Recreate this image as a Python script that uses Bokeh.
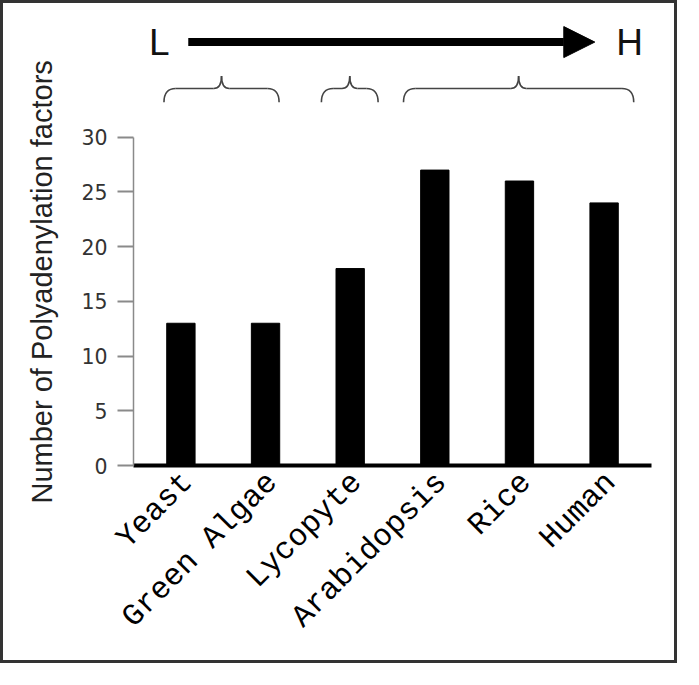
import math
from bokeh.plotting import figure
from bokeh.models import (Range1d, FixedTicker, Label, Arrow, NormalHead,
                          ColumnDataSource, Title)
from bokeh.embed import file_html
from bokeh.resources import INLINE

# ---- data ----
categories = ["Yeast", "Green Algae", "Lycopyte", "Arabidopsis", "Rice", "Human"]
factor_counts = [13, 13, 18, 27, 26, 24]
y_ticks = [0, 5, 10, 15, 20, 25, 30]
y_label = "Number of Polyadenylation factors"
low_label = "L"
high_label = "H"
# brace groups (start, end) in category-index units
brace_groups = [(-0.20, 1.16), (1.66, 2.33), (2.63, 5.35)]

xs = list(range(len(categories)))
label_shift = 0.08  # rotated labels sit slightly right of bar centres
label_ticks = [x + label_shift for x in xs]

p = figure(width=677, height=663, output_backend="svg", toolbar_location=None,
           x_range=Range1d(-0.56, len(categories) - 0.44),
           y_range=Range1d(0, 41.86),
           min_border_left=130, min_border_right=29,
           min_border_top=4, min_border_bottom=201)
p.styles = {"border": "3px solid #333333"}
p.outline_line_color = None
p.xgrid.visible = False
p.ygrid.visible = False
p.background_fill_color = "white"
p.border_fill_color = "white"

src = ColumnDataSource(dict(x=xs, top=factor_counts))
p.vbar(x="x", top="top", width=0.335, bottom=0, source=src,
       fill_color="black", line_color="black")

# y axis
ya = p.yaxis[0]
ya.ticker = FixedTicker(ticks=y_ticks)
ya.bounds = (y_ticks[0], y_ticks[-1])
ya.axis_line_color = "#8a8a8a"
ya.axis_line_width = 1.5
ya.major_tick_line_color = "#8a8a8a"
ya.major_tick_line_width = 2
ya.major_tick_out = 16
ya.major_tick_in = 0
ya.minor_tick_line_color = None
ya.major_label_text_font = "DejaVu Sans"
ya.major_label_text_font_size = "20.5px"
ya.major_label_text_color = "#333333"
ya.major_label_standoff = 10

# x axis
xa = p.xaxis[0]
xa.ticker = FixedTicker(ticks=label_ticks)
xa.major_label_overrides = {t: c for t, c in zip(label_ticks, categories)}
xa.axis_line_color = "black"
xa.axis_line_width = 4
xa.major_tick_line_color = None
xa.major_tick_out = 0
xa.major_tick_in = 0
xa.minor_tick_line_color = None
xa.major_label_orientation = math.pi / 4
xa.major_label_text_font = "Liberation Mono"
xa.major_label_text_font_size = "31px"
xa.major_label_text_color = "#000000"
xa.major_label_standoff = 12

# y axis label (as a left-side title so it can be shifted along the axis)
p.add_layout(Title(text=y_label, align="left", offset=-38, standoff=41,
                   text_font="Liberation Sans", text_font_size="29px",
                   text_font_style="normal", text_color="#222222"), "left")

# L -> H arrow
arrow_y = 38.7
p.add_layout(Arrow(end=NormalHead(size=31, fill_color="black", line_color="black"),
                   x_start=xs[0] + 0.087, y_start=arrow_y,
                   x_end=xs[-1] - 0.11, y_end=arrow_y,
                   line_width=8, line_color="black"))
p.add_layout(Label(x=xs[0] - 0.254, y=arrow_y, text=low_label,
                   text_align="center", text_baseline="middle",
                   text_font="Liberation Sans", text_font_size="37px",
                   text_color="#111111"))
p.add_layout(Label(x=xs[-1] + 0.30, y=arrow_y, text=high_label,
                   text_align="center", text_baseline="middle",
                   text_font="Liberation Sans", text_font_size="37px",
                   text_color="#111111"))

# braces
yb, ym, yt = 33.2, 34.46, 35.6
r1, r2 = 0.139, 0.092
qx0, qy0, qx1, qy1, qcx, qcy = [], [], [], [], [], []
sx0, sy0, sx1, sy1 = [], [], [], []
for a, b in brace_groups:
    m = (a + b) / 2
    qx0.append(a); qy0.append(yb); qx1.append(a + r1); qy1.append(ym); qcx.append(a); qcy.append(ym)
    qx0.append(b); qy0.append(yb); qx1.append(b - r1); qy1.append(ym); qcx.append(b); qcy.append(ym)
    qx0.append(m - r2); qy0.append(ym); qx1.append(m); qy1.append(yt); qcx.append(m); qcy.append(ym)
    qx0.append(m + r2); qy0.append(ym); qx1.append(m); qy1.append(yt); qcx.append(m); qcy.append(ym)
    sx0 += [a + r1, m + r2]; sy0 += [ym, ym]
    sx1 += [m - r2, b - r1]; sy1 += [ym, ym]

p.quadratic(x0=qx0, y0=qy0, x1=qx1, y1=qy1, cx=qcx, cy=qcy,
            line_color="#444444", line_width=1.6)
p.segment(x0=sx0, y0=sy0, x1=sx1, y1=sy1, line_color="#444444", line_width=1.6)

open("out.html", "w").write(file_html(p, INLINE))
